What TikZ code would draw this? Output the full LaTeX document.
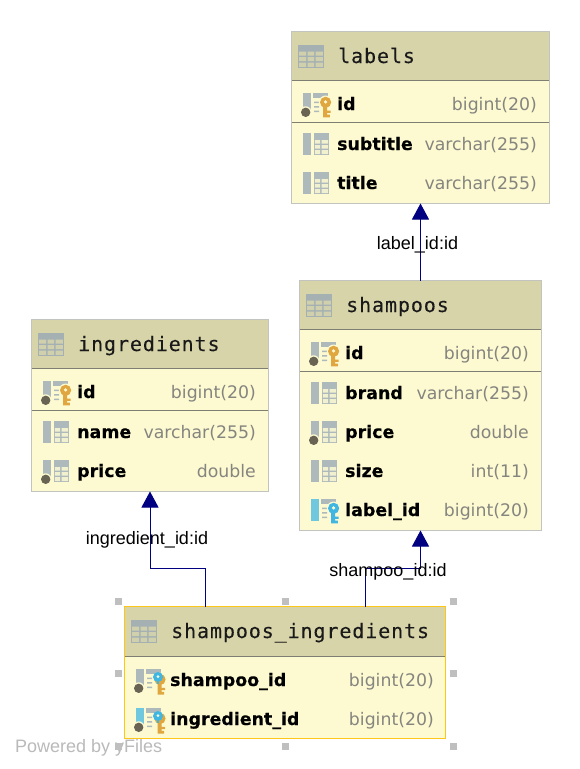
\documentclass[tikz,border=0pt]{standalone}
\usepackage{fontspec}
\usetikzlibrary{arrows.meta}
\setmainfont[BoldFeatures={FakeBold=0.25}]{DejaVu Sans}
\newfontfamily\hdrfont[LetterSpace=4.5,FakeBold=0.1]{DejaVu Sans Mono}
\newfontfamily\lblfont{Liberation Sans}
\definecolor{hdrbg}{HTML}{D7D4AA}
\definecolor{bodybg}{HTML}{FDFAD2}
\definecolor{tblborder}{HTML}{C2C4C0}
\definecolor{seplc}{HTML}{7E7E72}
\definecolor{selborder}{HTML}{FFC61A}
\definecolor{iconc}{HTML}{AEB9BB}
\definecolor{fkbar}{HTML}{70C8DE}
\definecolor{pkkey}{HTML}{E0A63F}
\definecolor{fkkey}{HTML}{3FB7E2}
\definecolor{dotc}{HTML}{696353}
\definecolor{typec}{HTML}{85857F}
\definecolor{edgec}{HTML}{000080}
\tikzset{
  x=1pt,y=-1pt,
  tablebox/.style={draw=tblborder,line width=1pt,fill=bodybg,inner sep=0pt,outer sep=0pt,rectangle},
  selbox/.style={tablebox,draw=selborder,line width=1.3pt},
  titletext/.style={anchor=base west,inner sep=0pt,font=\hdrfont\fontsize{20}{22}\selectfont,text=black!90},
  colname/.style={anchor=base west,inner sep=0pt,font=\bfseries\fontsize{17.4}{20}\selectfont,text=black},
  coltype/.style={anchor=base east,inner sep=0pt,font=\fontsize{17.3}{20}\selectfont,text=typec},
  edgeline/.style={draw=edgec,line width=1pt,-{Triangle[length=16pt,width=17pt]}},
  edgelabel/.style={inner sep=0pt,anchor=base,font=\lblfont\fontsize{18}{20}\selectfont,text=black},
  handle/.style={fill=black!25,inner sep=0pt,minimum size=7pt,rectangle},
  brand/.style={anchor=base west,inner sep=0pt,font=\lblfont\fontsize{18}{20}\selectfont,text=black!27},
}
% table: name, x1, y1, x2, y2, header bottom, sep y (or 0), title, style
\newcommand{\dbtable}[9]{%
  \node[#9,minimum width=#4pt-#2pt,minimum height=#5pt-#3pt,anchor=north west] (#1) at (#2+0.5,#3+0.5) {};
  \fill[hdrbg] (#2+0.5,#3+0.5) rectangle (#4+0.5,#6);
  \draw[seplc,line width=1.2pt] (#2+0.5,#6+0.5) -- (#4+0.5,#6+0.5);
  \ifnum#7>0 \draw[seplc,line width=1.2pt] (#2+0.5,#7+0.5) -- (#4+0.5,#7+0.5);\fi
  \draw[#9,fill=none] (#1.south west) rectangle (#1.north east);
  \begin{scope}[shift={(#2+7,#3+14)}]
    \fill[iconc!95!black] (0,0) rectangle (26,23);
    \fill[hdrbg!85!iconc] (1.2,6.5) rectangle (8.2,10.5) (9.7,6.5) rectangle (16.2,10.5) (17.7,6.5) rectangle (24.8,10.5)
      (1.2,12) rectangle (8.2,16) (9.7,12) rectangle (16.2,16) (17.7,12) rectangle (24.8,16)
      (1.2,17.5) rectangle (8.2,21.8) (9.7,17.5) rectangle (16.2,21.8) (17.7,17.5) rectangle (24.8,21.8);
  \end{scope}
  \node[titletext] (#1title) at (#2+47,#3+32) {#8};
}
\newcommand{\icobar}[1]{\fill[#1] (0,0) rectangle (8,22);}
\newcommand{\icogrid}{\fill[iconc] (11,0) rectangle (26,22);
  \fill[bodybg!85!iconc] (11.8,7) rectangle (17,10.5) (18.5,7) rectangle (25.2,10.5) (11.8,12) rectangle (17,15.5) (18.5,12) rectangle (25.2,15.5) (11.8,17) rectangle (17,21.2) (18.5,17) rectangle (25.2,21.2);}
\newcommand{\icolines}{\fill[iconc] (10,0) rectangle (25,5);
  \fill[iconc] (11,8.5) rectangle (16,10) (11,13) rectangle (16,14.5) (11,17.5) rectangle (16,19);}
\newcommand{\icodot}{\fill[bodybg] (2.7,19.3) circle (6);\fill[dotc] (2.7,19.3) circle (4.7);}
\newcommand{\icokey}[3]{%
  \fill[bodybg] (#1,#2) circle (6.8);
  \fill[#3] (#1,#2) circle (5.6);
  \fill[bodybg] (#1,#2-0.4) circle (1.8);
  \fill[#3] (#1-2.4,#2+4) rectangle (#1+1.6,#2+15)
     (#1+1.6,#2+8.4) rectangle (#1+5,#2+10.6)
     (#1+1.6,#2+12.4) rectangle (#1+4.2,#2+15);}
% row: node name, icon x, text x, type right x, y centre, icon code, name, type
\newcommand{\dbrow}[8]{%
  \begin{scope}[shift={(#2,#5-11)}] #6 \end{scope}
  \node[colname] (#1n) at (#3,#5+6) {#7};
  \node[coltype] (#1t) at (#4,#5+6) {#8};
}
\newcommand{\pkicon}{\icobar{iconc}\icolines\icodot\icokey{22.6}{9.3}{pkkey}}
\newcommand{\plainicon}{\icobar{iconc}\icogrid}
\newcommand{\nnicon}{\icobar{iconc}\icogrid\icodot}
\newcommand{\fkicon}{\icobar{fkbar}\icolines\icokey{22.6}{9.3}{fkkey}}
\newcommand{\pkfkicon}{\icobar{iconc}\icolines\icodot\icokey{24}{10.5}{pkkey}\fill[fkkey] (20.6,11) rectangle (23.4,15);\fill[fkkey] (22,8) circle (5);\fill[bodybg] (22,7.6) circle (1.6);}
\newcommand{\pkfkbicon}{\icobar{fkbar}\icolines\icodot\icokey{24}{10.5}{pkkey}\fill[fkkey] (20.6,11) rectangle (23.4,15);\fill[fkkey] (22,8) circle (5);\fill[bodybg] (22,7.6) circle (1.6);}
\begin{document}
\begin{tikzpicture}
\useasboundingbox (0,0) rectangle (580,769);
\fill[white] (0,0) rectangle (580,769);

\dbtable{labels}{291}{31}{549}{203}{80}{122}{labels}{tablebox}
\dbrow{lid}{303}{337}{537}{104}{\pkicon}{id}{bigint(20)}
\dbrow{lsub}{303}{337}{537}{144}{\plainicon}{subtitle}{varchar(255)}
\dbrow{ltit}{303}{337}{537}{183}{\plainicon}{title}{varchar(255)}

\dbtable{shampoos}{299}{280}{541}{530}{329}{371}{shampoos}{tablebox}
\dbrow{sid}{311}{345}{529}{353}{\pkicon}{id}{bigint(20)}
\dbrow{sbr}{311}{345}{529}{393}{\plainicon}{brand}{varchar(255)}
\dbrow{spr}{311}{345}{529}{432}{\nnicon}{price}{double}
\dbrow{ssz}{311}{345}{529}{471}{\plainicon}{size}{int(11)}
\dbrow{slb}{311}{345}{529}{510}{\fkicon}{label\_id}{bigint(20)}

\dbtable{ingredients}{31}{319}{268}{491}{368}{410}{ingredients}{tablebox}
\dbrow{iid}{43}{77}{256}{392}{\pkicon}{id}{bigint(20)}
\dbrow{inm}{43}{77}{256}{432}{\plainicon}{name}{varchar(255)}
\dbrow{ipr}{43}{77}{256}{471}{\nnicon}{price}{double}

\dbtable{junction}{124}{606}{445}{738}{656}{0}{shampoos\_ingredients}{selbox}
\dbrow{jsh}{136}{170}{434}{680}{\pkfkicon}{shampoo\_id}{bigint(20)}
\dbrow{jin}{136}{170}{434}{719}{\pkfkbicon}{ingredient\_id}{bigint(20)}

\draw[edgeline] (shampoos.north) -- (shampoos.north |- labels.south);
\draw[edgeline] ([xshift=-80pt]junction.north) -- ++(0,-38) -| (ingredients.south);
\draw[edgeline] ([xshift=80pt]junction.north) -- ++(0,-38) -| (shampoos.south);

\node[edgelabel] (e1) at (417.5,249) {label\_id:id};
\node[edgelabel] (e2) at (147,544) {ingredient\_id:id};
\node[edgelabel] (e3) at (388,576) {shampoo\_id:id};

\node[brand] (pw) at (15,752) {Powered by yFiles};
\node[handle] (h1) at (118,601) {};
\node[handle] (h2) at (285,601) {};
\node[handle] (h3) at (453,601) {};
\node[handle] (h4) at (118,673) {};
\node[handle] (h5) at (453,673) {};
\node[handle] (h6) at (118,746) {};
\node[handle] (h7) at (285,746) {};
\node[handle] (h8) at (453,746) {};
\end{tikzpicture}
\end{document}
